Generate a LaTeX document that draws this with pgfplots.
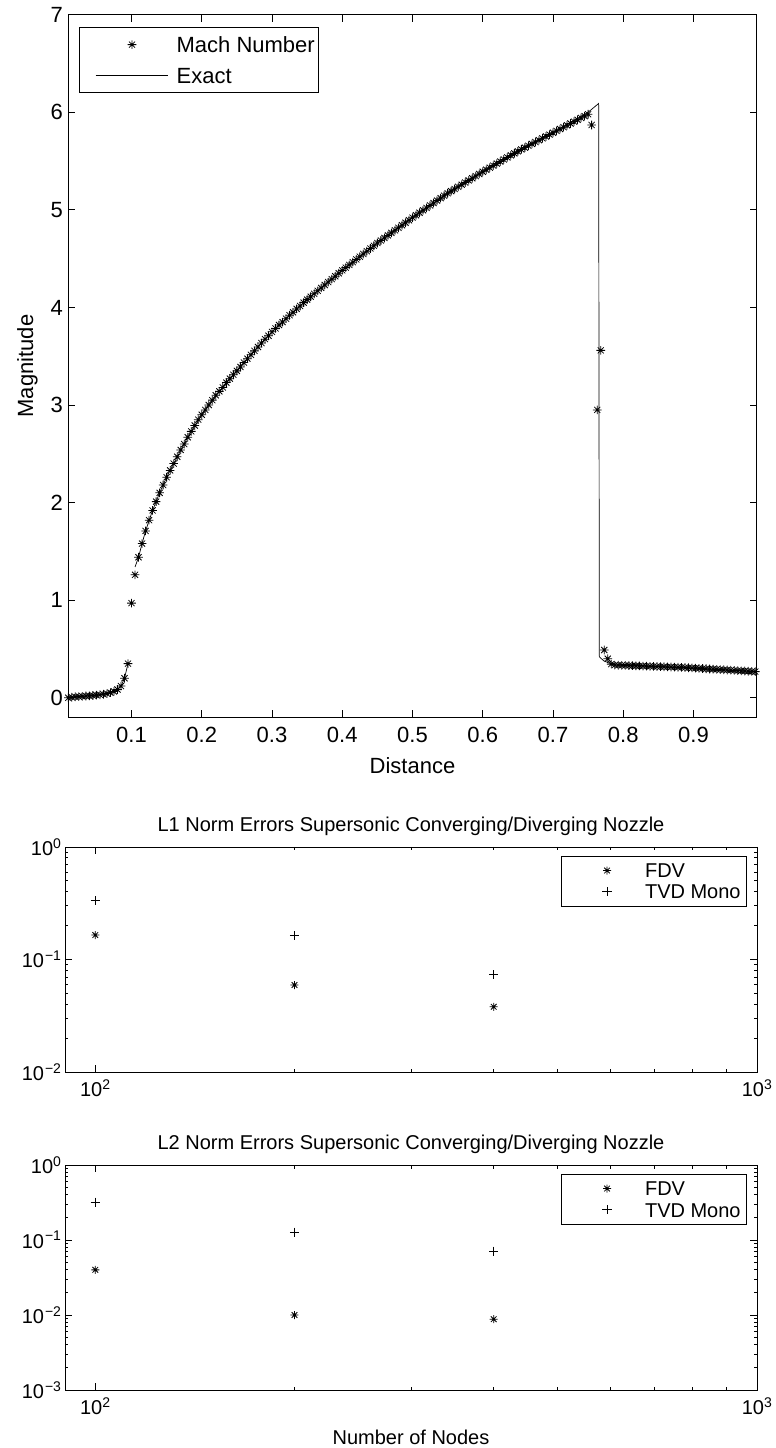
\documentclass[border=0pt]{standalone}
\usepackage{fontspec}
\setmainfont{Liberation Sans}
\usepackage{pgfplots}
\pgfplotsset{compat=1.18}

% asterisk made of a plus and a cross, eight arms
\pgfdeclareplotmark{mstar}{%
  \pgfpathmoveto{\pgfqpoint{0pt}{\pgfplotmarksize}}%
  \pgfpathlineto{\pgfqpoint{0pt}{-\pgfplotmarksize}}%
  \pgfpathmoveto{\pgfqpoint{\pgfplotmarksize}{0pt}}%
  \pgfpathlineto{\pgfqpoint{-\pgfplotmarksize}{0pt}}%
  \pgfpathmoveto{\pgfqpoint{.7071\pgfplotmarksize}{.7071\pgfplotmarksize}}%
  \pgfpathlineto{\pgfqpoint{-.7071\pgfplotmarksize}{-.7071\pgfplotmarksize}}%
  \pgfpathmoveto{\pgfqpoint{-.7071\pgfplotmarksize}{.7071\pgfplotmarksize}}%
  \pgfpathlineto{\pgfqpoint{.7071\pgfplotmarksize}{-.7071\pgfplotmarksize}}%
  \pgfusepathqstroke}

\newcommand{\bigf}{\fontsize{22}{26}\selectfont}
\newcommand{\smallf}{\fontsize{20}{24}\selectfont}

\pgfplotsset{
  matlab/.style={
    scale only axis, anchor=south west,
    tick align=inside,
    axis line style={line width=0.9pt},
    every tick/.style={black, line width=0.8pt},
    /pgf/number format/assume math mode=true,
  },
  % legend picture: a blank strut to set the cell width, then one mark
  markkey/.style 2 args={legend image code/.code={%
    \path[draw=none,fill=none] (-12pt,0pt) -- (#2,0pt);
    \draw[only marks, #1] plot coordinates {(0.5*#2,0pt)};}},
  linekey/.style={legend image code/.code={%
    \path[draw=none,fill=none] (-12pt,0pt) -- (#1,0pt);
    \draw[line width=0.7pt] (0pt,0pt) -- (#1,0pt);}},
  logkeys/.style={
    legend cell align=left,
    legend style={at={(1,1)}, anchor=north east, xshift=-10pt, yshift=-9pt,
      draw=black, line width=0.8pt, inner xsep=6pt, inner ysep=7pt,
      row sep=7pt, column sep=10pt,
      nodes={inner sep=0pt, text height=14.3pt, text depth=0pt, font=\smallf}},
  },
}

\begin{document}
\begin{tikzpicture}[x=1pt,y=1pt]
\path (0,0) rectangle (773,1448);

% ---------------- Mach number along the nozzle ----------------
\begin{axis}[matlab,
  at={(68.3pt,730.7pt)}, width=688.4pt, height=702.6pt,
  xmin=0.01, xmax=0.99, ymin=-0.2, ymax=7,
  xtick={0.1,0.2,0.3,0.4,0.5,0.6,0.7,0.8,0.9},
  ytick={0,1,2,3,4,5,6,7},
  major tick length=7pt,
  ticklabel style={font=\bigf},
  xticklabel style={yshift=-6pt},
  yticklabel style={xshift=-2pt},
  xlabel={Distance}, ylabel={Magnitude},
  label style={font=\bigf},
  xlabel style={yshift=-8pt},
  ylabel style={yshift=6pt},
  clip=false,
  legend cell align=left,
  legend style={at={(0.016,0.982)}, anchor=north west,
    draw=black, line width=0.8pt, inner xsep=4pt, inner ysep=9pt,
    row sep=15pt, column sep=8pt,
    nodes={inner sep=0pt, text height=15.8pt, text depth=0pt, font=\bigf}},
]
\addplot[only marks, mark=mstar, mark size=4.3pt, line width=0.8pt, black,
  markkey={mark=mstar, mark size=4.3pt, line width=0.8pt}{72.6pt}]
coordinates {
(0.010,0.000)(0.015,0.005)(0.020,0.010)(0.025,0.012)(0.030,0.015)(0.035,0.018)
(0.040,0.020)(0.045,0.023)(0.050,0.027)(0.055,0.031)(0.060,0.036)(0.065,0.043)
(0.070,0.052)(0.075,0.065)(0.080,0.085)(0.085,0.120)(0.090,0.200)(0.095,0.350)
(0.100,0.970)(0.105,1.260)(0.110,1.440)(0.115,1.580)(0.120,1.710)(0.125,1.820)
(0.130,1.920)(0.135,2.010)(0.140,2.100)(0.145,2.180)(0.150,2.260)(0.155,2.330)
(0.160,2.400)(0.165,2.470)(0.170,2.540)(0.175,2.600)(0.180,2.670)(0.185,2.730)
(0.190,2.790)(0.195,2.850)(0.200,2.900)
(0.205,2.950)(0.210,3.000)(0.215,3.050)(0.220,3.100)(0.225,3.140)(0.230,3.180)
(0.235,3.230)(0.240,3.270)(0.245,3.310)(0.250,3.350)
(0.255,3.390)(0.260,3.435)(0.265,3.475)(0.270,3.515)(0.275,3.555)(0.280,3.595)
(0.285,3.635)(0.290,3.675)(0.295,3.710)(0.300,3.750)
(0.305,3.785)(0.310,3.820)(0.315,3.850)(0.320,3.885)(0.325,3.920)(0.330,3.950)
(0.335,3.985)(0.340,4.015)(0.345,4.050)(0.350,4.080)
(0.355,4.110)(0.360,4.140)(0.365,4.170)(0.370,4.200)(0.375,4.230)(0.380,4.260)
(0.385,4.290)(0.390,4.320)(0.395,4.350)(0.400,4.380)
(0.405,4.408)(0.410,4.436)(0.415,4.464)(0.420,4.492)(0.425,4.520)(0.430,4.548)
(0.435,4.576)(0.440,4.604)(0.445,4.632)(0.450,4.660)
(0.455,4.686)(0.460,4.712)(0.465,4.738)(0.470,4.764)(0.475,4.790)(0.480,4.816)
(0.485,4.842)(0.490,4.868)(0.495,4.894)(0.500,4.920)
(0.505,4.945)(0.510,4.970)(0.515,4.995)(0.520,5.020)(0.525,5.045)(0.530,5.070)
(0.535,5.095)(0.540,5.120)(0.545,5.145)(0.550,5.170)
(0.555,5.192)(0.560,5.214)(0.565,5.236)(0.570,5.258)(0.575,5.280)(0.580,5.302)
(0.585,5.324)(0.590,5.346)(0.595,5.368)(0.600,5.390)
(0.605,5.411)(0.610,5.432)(0.615,5.453)(0.620,5.474)(0.625,5.495)(0.630,5.516)
(0.635,5.537)(0.640,5.558)(0.645,5.579)(0.650,5.600)
(0.655,5.619)(0.660,5.638)(0.665,5.657)(0.670,5.676)(0.675,5.695)(0.680,5.714)
(0.685,5.733)(0.690,5.752)(0.695,5.771)(0.700,5.790)
(0.705,5.809)(0.710,5.828)(0.715,5.847)(0.720,5.866)(0.725,5.885)(0.730,5.904)
(0.735,5.923)(0.740,5.942)(0.745,5.961)(0.750,5.980)
(0.755,5.870)(0.763,2.950)(0.768,3.560)(0.773,0.490)(0.778,0.400)(0.783,0.345)
(0.788,0.3350)(0.793,0.3338)(0.798,0.3325)(0.803,0.3313)(0.808,0.3300)
(0.813,0.3288)(0.818,0.3275)(0.823,0.3263)(0.828,0.3250)(0.833,0.3238)
(0.838,0.3225)(0.843,0.3213)(0.848,0.3200)(0.853,0.3188)(0.858,0.3175)
(0.863,0.3163)(0.868,0.3150)(0.873,0.3138)(0.878,0.3125)(0.883,0.3113)
(0.888,0.3100)(0.893,0.3079)(0.898,0.3058)(0.903,0.3037)(0.908,0.3016)
(0.913,0.2995)(0.918,0.2974)(0.923,0.2953)(0.928,0.2932)(0.933,0.2911)
(0.938,0.2890)(0.943,0.2869)(0.948,0.2848)(0.953,0.2827)(0.958,0.2806)
(0.963,0.2785)(0.968,0.2764)(0.973,0.2743)(0.978,0.2722)(0.983,0.2701)
(0.988,0.2680)
};
\addlegendentry{Mach Number}

% exact solution: supersonic branch with the shock, then the subsonic inlet
\addplot[black, line width=0.7pt, mark=none, linekey=72.6pt]
coordinates {
(0.105,1.340)(0.110,1.440)(0.115,1.580)(0.120,1.710)(0.130,1.920)(0.140,2.100)
(0.150,2.260)(0.160,2.400)(0.180,2.670)(0.200,2.900)(0.225,3.140)(0.250,3.350)
(0.275,3.555)(0.300,3.750)(0.350,4.080)(0.400,4.380)(0.450,4.660)(0.500,4.920)
(0.550,5.170)(0.600,5.390)(0.650,5.600)(0.700,5.790)(0.750,6.000)(0.765,6.090)
(0.766,0.420)(0.772,0.380)(0.780,0.355)(0.790,0.345)(0.850,0.320)(0.900,0.298)
(0.950,0.272)(0.990,0.240)
};
\addlegendentry{Exact}
\addplot[black, line width=0.7pt, mark=none, forget plot]
coordinates {
(0.010,0.000)(0.020,0.010)(0.030,0.015)(0.040,0.020)(0.050,0.027)(0.060,0.036)
(0.070,0.052)(0.075,0.065)(0.080,0.085)(0.085,0.120)(0.090,0.200)(0.095,0.350)
};
\end{axis}

% ---------------- L1 norm errors ----------------
\begin{axis}[matlab, logkeys,
  at={(65pt,376pt)}, width=692pt, height=225pt,
  xmode=log, ymode=log,
  xmin=90, xmax=1000, ymin=0.01, ymax=1,
  xtick={100,1000}, xticklabels={10\textsuperscript{2},10\textsuperscript{3}},
  minor xtick={200,300,400,500,600,700,800,900},
  ytick={0.01,0.1,1},
  yticklabels={10\textsuperscript{\kern1pt−2},10\textsuperscript{\kern1pt−1},10\textsuperscript{0}},
  minor ytick={0.02,0.03,0.04,0.05,0.06,0.07,0.08,0.09,0.2,0.3,0.4,0.5,0.6,0.7,0.8,0.9},
  major tick length=7pt, minor tick length=3.5pt,
  ticklabel style={font=\smallf},
  xticklabel style={yshift=-4pt},
  title={L1 Norm Errors Supersonic Converging/Diverging Nozzle},
  title style={font=\smallf, yshift=2pt},
]
\addplot[only marks, mark=mstar, mark size=4pt, line width=0.8pt, black,
  markkey={mark=mstar, mark size=4pt, line width=0.8pt}{56pt}]
coordinates {(100,0.165)(200,0.0593)(400,0.0380)};
\addlegendentry{FDV}
\addplot[only marks, mark=+, mark size=4.6pt, line width=0.8pt, black,
  markkey={mark=+, mark size=4.6pt, line width=0.8pt}{56pt}]
coordinates {(100,0.332)(200,0.163)(400,0.0730)};
\addlegendentry{TVD Mono}
\end{axis}

% ---------------- L2 norm errors ----------------
\begin{axis}[matlab, logkeys,
  at={(65pt,58pt)}, width=692pt, height=225pt,
  xmode=log, ymode=log,
  xmin=90, xmax=1000, ymin=0.001, ymax=1,
  xtick={100,1000}, xticklabels={10\textsuperscript{2},10\textsuperscript{3}},
  minor xtick={200,300,400,500,600,700,800,900},
  ytick={0.001,0.01,0.1,1},
  yticklabels={10\textsuperscript{\kern1pt−3},10\textsuperscript{\kern1pt−2},10\textsuperscript{\kern1pt−1},10\textsuperscript{0}},
  minor ytick={0.002,0.003,0.004,0.005,0.006,0.007,0.008,0.009,0.02,0.03,0.04,0.05,0.06,0.07,0.08,0.09,0.2,0.3,0.4,0.5,0.6,0.7,0.8,0.9},
  major tick length=7pt, minor tick length=3.5pt,
  ticklabel style={font=\smallf},
  xticklabel style={yshift=-4pt},
  title={L2 Norm Errors Supersonic Converging/Diverging Nozzle},
  title style={font=\smallf, yshift=2pt},
  xlabel={Number of Nodes},
  xlabel style={font=\smallf, yshift=-8pt},
]
\addplot[only marks, mark=mstar, mark size=4pt, line width=0.8pt, black,
  markkey={mark=mstar, mark size=4pt, line width=0.8pt}{56pt}]
coordinates {(100,0.040)(200,0.0100)(400,0.0088)};
\addlegendentry{FDV}
\addplot[only marks, mark=+, mark size=4.6pt, line width=0.8pt, black,
  markkey={mark=+, mark size=4.6pt, line width=0.8pt}{56pt}]
coordinates {(100,0.32)(200,0.127)(400,0.071)};
\addlegendentry{TVD Mono}
\end{axis}
\end{tikzpicture}
\end{document}
